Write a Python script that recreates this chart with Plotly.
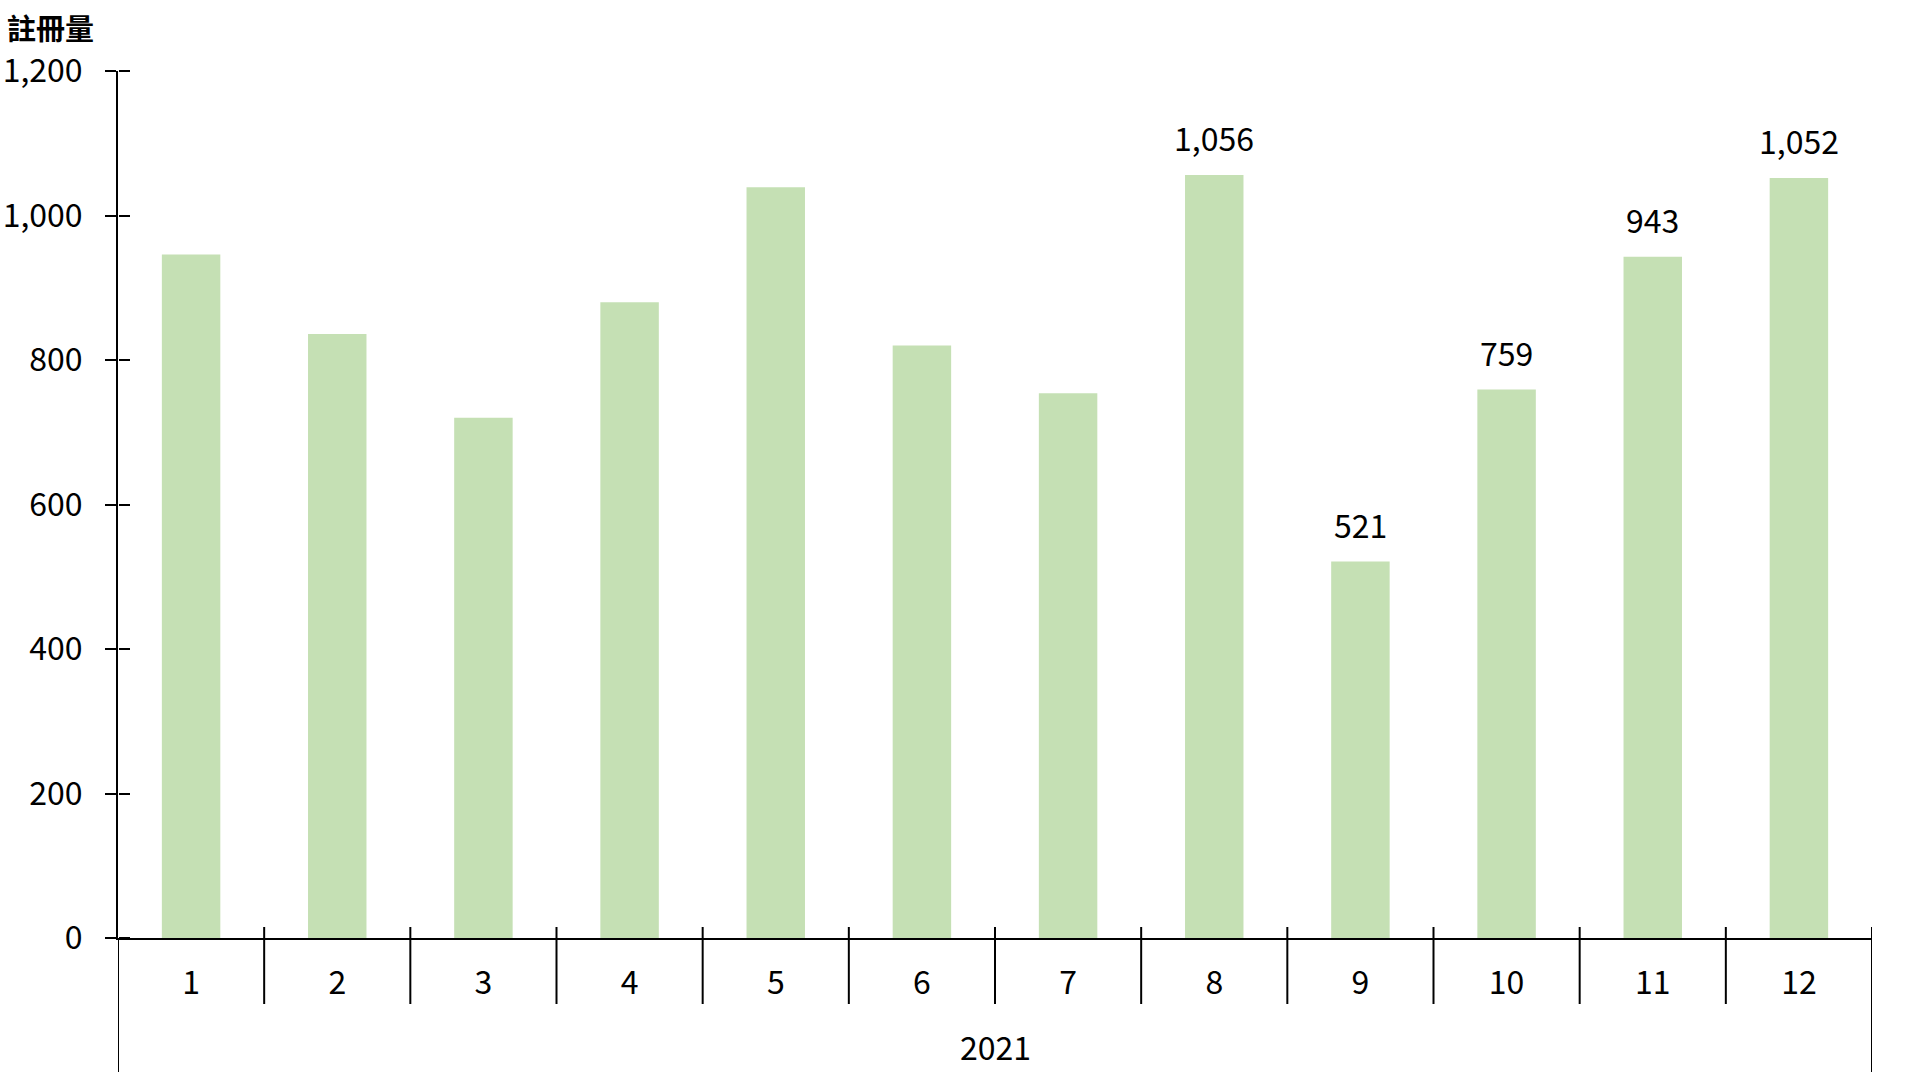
import plotly.graph_objects as go

months = ["1", "2", "3", "4", "5", "6", "7", "8", "9", "10", "11", "12"]
values = [946, 836, 720, 880, 1039, 820, 754, 1056, 521, 759, 943, 1052]
labeled = [False, False, False, False, False, False, False, True, True, True, True, True]
year_label = "2021"
y_title = "註冊量"
y_ticks = [0, 200, 400, 600, 800, 1000, 1200]

FONT = "Noto Sans CJK TC"
FS = 32
BAR_COLOR = "#C5E0B4"

xpos = list(range(1, len(months) + 1))

fig = go.Figure()
fig.add_trace(go.Bar(
    x=xpos, y=values, width=0.4,
    marker=dict(color=BAR_COLOR, line=dict(width=0)),
    hoverinfo="skip", showlegend=False,
))

# body margin is removed in the page, so figure coords == page coords
L, T, R_ABS, ZERO_ABS = 117.5, 71, 1872, 938
ml, mt = L, T
mr = 1920 - R_ABS
mb = 1080 - ZERO_ABS
plot_h = ZERO_ABS - T
plot_w = R_ABS - L

annotations = []
for x, v, lab in zip(xpos, values, labeled):
    if lab:
        annotations.append(dict(
            x=x, y=v, xref="x", yref="y", text=f"{v:,}", showarrow=False,
            yanchor="bottom", yshift=13, font=dict(family=FONT, size=FS, color="black"),
        ))
annotations.append(dict(
    x=(1 + len(months)) / 2, y=-(1046 - ZERO_ABS) / plot_h, xref="x", yref="paper",
    text=year_label, showarrow=False, yanchor="middle",
    font=dict(family=FONT, size=FS, color="black"),
))
annotations.append(dict(
    x=-L / plot_w, y=1 + (T - 27) / plot_h, xref="paper", yref="paper",
    text="<b>" + y_title + "</b>", showarrow=False, xanchor="left", yanchor="middle",
    xshift=5, borderpad=0, font=dict(family=FONT, size=29, color="black"),
))

shapes = []
n = len(months)
for i in range(1, n + 1):
    xb = 0.5 + i
    outer = i == n
    y0 = -(1072 - ZERO_ABS) / plot_h if outer else -(1004 - ZERO_ABS) / plot_h
    y1 = (ZERO_ABS - 927) / plot_h
    shapes.append(dict(type="line", xref="x", yref="paper", x0=xb, x1=xb,
                       y0=y0, y1=y1, line=dict(color="black", width=2)))
# left axis extension below zero
shapes.append(dict(type="line", xref="x", yref="paper", x0=0.5, x1=0.5,
                   y0=-(1072 - ZERO_ABS) / plot_h, y1=0, line=dict(color="black", width=2)))

fig.update_layout(
    width=1920, height=1080,
    margin=dict(l=ml, r=mr, t=mt, b=mb, pad=0),
    paper_bgcolor="white", plot_bgcolor="white",
    font=dict(family=FONT, size=FS, color="black"),
    bargap=0.6,
    xaxis=dict(
        range=[0.5, n + 0.5], tickmode="array", tickvals=xpos, ticktext=months,
        showline=True, linecolor="black", linewidth=2, showgrid=False, zeroline=False,
        ticks="outside", ticklen=16, tickcolor="rgba(0,0,0,0)", automargin=False,
        tickfont=dict(family=FONT, size=FS, color="black"),
    ),
    yaxis=dict(
        range=[0, 1200], tickmode="array", tickvals=y_ticks,
        ticktext=[f"{t:,}" for t in y_ticks],
        showline=True, linecolor="black", linewidth=2, showgrid=False, zeroline=False,
        ticks="outside", ticklen=11, tickwidth=2, tickcolor="black",
        ticklabelstandoff=16, automargin=False,
        tickfont=dict(family=FONT, size=FS, color="black"),
    ),
    yaxis2=dict(
        range=[0, 1200], overlaying="y", anchor="free", position=0, side="right",
        tickmode="array", tickvals=y_ticks, showticklabels=False,
        ticks="outside", ticklen=11, tickwidth=2, tickcolor="black",
        showline=False, showgrid=False, zeroline=False, automargin=False,
    ),
    annotations=annotations, shapes=shapes,
)
fig.add_trace(go.Scatter(x=[1], y=[0], yaxis="y2", mode="markers",
                         marker=dict(opacity=0), hoverinfo="skip", showlegend=False))

fig.write_html("out.html", config={"displayModeBar": False},
               post_script="document.body.style.margin='0';document.body.style.overflow='hidden';")
